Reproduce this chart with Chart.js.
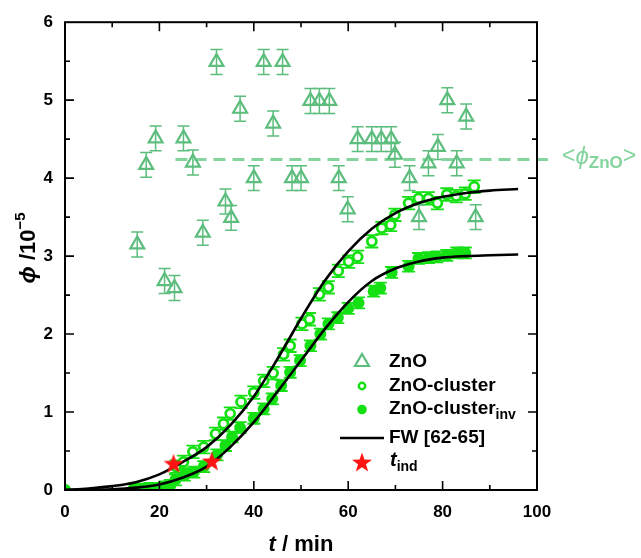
<!DOCTYPE html>
<html>
<head>
<meta charset="utf-8">
<script src="https://cdn.jsdelivr.net/npm/chart.js@4.4.1/dist/chart.umd.min.js"></script>
<style>
  html, body { margin: 0; padding: 0; background: #fff; }
  #wrap { width: 641px; height: 558px; }
</style>
</head>
<body>
<div id="wrap"><canvas id="myChart" width="641" height="558"></canvas></div>
<script>
// ZnO (triangles)
const znoT = [15.3, 17.2, 19.2, 21.1, 23.2, 25.1, 27.1, 29.2, 32.1, 34.0, 35.2, 37.1, 40.0, 42.1, 44.1, 46.1, 48.1, 50.0,
  52.0, 53.9, 56.0, 58.0, 59.9, 62.0, 65.0, 67.0, 69.1, 69.9, 73.0, 75.0, 77.0, 79.0, 81.0, 83.0, 85.0, 87.0];
const znoPhi = [3.15, 4.17, 4.51, 2.68, 2.59, 4.51, 4.20, 3.30, 5.49, 3.70, 3.49, 4.89, 4.00, 5.49, 4.70, 5.49, 4.00, 4.00,
  4.99, 4.99, 4.99, 4.00, 3.60, 4.50, 4.50, 4.50, 4.50, 4.30, 4.00, 3.50, 4.19, 4.40, 5.00, 4.19, 4.79, 3.50];
const znoErr = 0.16;
const znoMean = 4.24;
const znoMeanT = [23.4, 102.3];

// ZnO-cluster (open circles)
const clusterT = [0, 23.5, 25.1, 27.1, 29.4, 31.9, 33.6, 35.0, 37.3, 40.0, 42.1, 44.1, 46.3, 47.7, 50.2, 51.8, 53.9,
  55.8, 57.9, 60.1, 62.0, 65.0, 67.1, 69.0, 69.9, 72.8, 74.9, 77.0, 78.9, 80.9, 82.9, 84.8, 86.7];
const clusterPhi = [0, 0.30, 0.36, 0.49, 0.55, 0.72, 0.85, 0.98, 1.13, 1.25, 1.40, 1.50, 1.74, 1.85, 2.13, 2.19, 2.51,
  2.60, 2.81, 2.93, 2.99, 3.19, 3.36, 3.40, 3.53, 3.68, 3.74, 3.74, 3.68, 3.79, 3.77, 3.80, 3.89];
const clusterErr = 0.08;

// ZnO-cluster_inv (filled circles)
const invT = [0, 14.5, 16.2, 18.0, 19.8, 21.2, 22.3, 23.4, 25.3, 27.3, 29.4, 32.2, 34.0, 35.4, 37.1, 40.0, 42.1, 43.9,
  45.8, 47.7, 49.8, 52.0, 54.1, 55.8, 57.8, 60.0, 62.2, 65.4, 66.8, 69.2, 72.8, 74.9, 77.0, 78.8, 80.9, 83.0, 84.8];
const invPhi = [0, 0.01, 0.01, 0.02, 0.02, 0.04, 0.06, 0.13, 0.19, 0.23, 0.30, 0.45, 0.57, 0.68, 0.80, 0.92, 1.04, 1.17,
  1.34, 1.51, 1.66, 1.85, 2.00, 2.13, 2.21, 2.33, 2.40, 2.55, 2.59, 2.79, 2.87, 2.97, 2.98, 2.99, 3.01, 3.04, 3.04];
const invErr = 0.07;

// FW fit curves, sampled every 5 min
const fitT = [0, 5, 10, 15, 20, 25, 30, 35, 40, 45, 50, 55, 60, 65, 70, 75, 80, 85, 90, 96];
const fitUpperPhi = [0, 0.02, 0.05, 0.10, 0.20, 0.36, 0.55, 0.83, 1.20, 1.68, 2.20, 2.68, 3.06, 3.35, 3.55, 3.68,
  3.76, 3.81, 3.84, 3.86];
const fitLowerPhi = [0, 0.005, 0.01, 0.03, 0.07, 0.16, 0.30, 0.55, 0.87, 1.26, 1.66, 2.06, 2.41, 2.68, 2.84, 2.93,
  2.98, 3.00, 3.01, 3.02];

// induction times
const indT = [23.0, 31.1];
const indPhi = [0.33, 0.36];

const xTicks = [0, 20, 40, 60, 80, 100];
const yTicks = [0, 1, 2, 3, 4, 5, 6];

const FONT = 'Arial, "Liberation Sans", sans-serif';
const TRI = '#5cbd7d';
const MEAN = '#84d49e';
const GREEN = '#14e014';

const pts = (xs, ys) => xs.map((v, i) => ({ x: v, y: ys[i] }));

// filled red star used for t_ind
const starImg = document.createElement('canvas');
starImg.width = 24; starImg.height = 24;
(function () {
  const c = starImg.getContext('2d');
  c.beginPath();
  for (let k = 0; k < 10; k++) {
    const r = k % 2 ? 4.2 : 10.5;
    const a = -Math.PI / 2 + k * Math.PI / 5;
    c.lineTo(12 + r * Math.cos(a), 12 + r * Math.sin(a));
  }
  c.closePath();
  c.fillStyle = '#ff1414';
  c.fill();
})();

// text made of several styled pieces
function drawRuns(ctx, runs, x, y, align) {
  let total = 0;
  runs.forEach(r => { ctx.font = r.font; r.w = ctx.measureText(r.text).width; total += r.w; });
  let cx = align === 'center' ? x - total / 2 : x;
  ctx.textAlign = 'left';
  ctx.textBaseline = 'middle';
  runs.forEach(r => {
    ctx.font = r.font;
    ctx.fillText(r.text, cx, y + (r.dy || 0));
    cx += r.w;
  });
}

const errorBars = {
  id: 'errorBars',
  beforeDatasetsDraw(chart) {
    const { ctx, scales: { x, y } } = chart;
    chart.data.datasets.forEach(ds => {
      if (!ds.errY) return;
      ctx.save();
      ctx.strokeStyle = ds.errColor;
      ctx.lineWidth = ds.errWidth;
      ds.data.forEach(p => {
        if (p.y === 0) return;
        const px = x.getPixelForValue(p.x);
        const top = y.getPixelForValue(p.y + ds.errY);
        const bot = y.getPixelForValue(Math.max(0, p.y - ds.errY));
        const cap = ds.errCap;
        ctx.beginPath();
        ctx.moveTo(px, top); ctx.lineTo(px, bot);
        ctx.moveTo(px - cap, top); ctx.lineTo(px + cap, top);
        ctx.moveTo(px - cap, bot); ctx.lineTo(px + cap, bot);
        ctx.stroke();
      });
      ctx.restore();
    });
  }
};

const decorations = {
  id: 'decorations',
  afterDraw(chart) {
    const { ctx, chartArea: a, scales: { x, y } } = chart;
    ctx.save();
    // frame and inward ticks on all sides
    ctx.strokeStyle = '#000';
    ctx.lineWidth = 2;
    ctx.strokeRect(a.left, a.top, a.right - a.left, a.bottom - a.top);
    ctx.lineWidth = 1.6;
    ctx.beginPath();
    for (let v = 10; v < 100; v += 10) {
      const px = x.getPixelForValue(v);
      const len = v % 20 === 0 ? 9 : 5;
      ctx.moveTo(px, a.bottom); ctx.lineTo(px, a.bottom - len);
      ctx.moveTo(px, a.top); ctx.lineTo(px, a.top + len);
    }
    for (let v = 0.5; v < 6; v += 0.5) {
      const py = y.getPixelForValue(v);
      const len = Number.isInteger(v) ? 9 : 5;
      ctx.moveTo(a.left, py); ctx.lineTo(a.left + len, py);
      ctx.moveTo(a.right, py); ctx.lineTo(a.right - len, py);
    }
    ctx.stroke();

    // axis titles
    ctx.fillStyle = '#000';
    drawRuns(ctx, [
      { text: 't', font: 'italic bold 22px ' + FONT },
      { text: ' / min', font: 'bold 22px ' + FONT }
    ], (a.left + a.right) / 2, 545, 'center');
    ctx.save();
    ctx.translate(29, 248);
    ctx.rotate(-Math.PI / 2);
    drawRuns(ctx, [
      { text: 'ϕ', font: 'italic bold 23px ' + FONT },
      { text: ' /10', font: 'bold 22px ' + FONT },
      { text: '−5', font: 'bold 15px ' + FONT, dy: -8 }
    ], 0, 0, 'center');
    ctx.restore();

    // label of the mean line
    ctx.fillStyle = MEAN;
    drawRuns(ctx, [
      { text: '<', font: '23px ' + FONT },
      { text: 'ϕ', font: 'italic 24px ' + FONT },
      { text: 'ZnO', font: 'bold 17px ' + FONT, dy: 6 },
      { text: '>', font: '23px ' + FONT }
    ], 562, 157, 'left');

    // legend
    const sx = 362, tx = 389;
    ctx.strokeStyle = TRI; ctx.lineWidth = 2.2;
    ctx.beginPath();
    ctx.moveTo(sx, 361 - 7); ctx.lineTo(sx + 7, 361 + 5); ctx.lineTo(sx - 7, 361 + 5); ctx.closePath();
    ctx.stroke();
    ctx.strokeStyle = GREEN; ctx.lineWidth = 2.4;
    ctx.beginPath(); ctx.arc(sx, 386, 3.2, 0, Math.PI * 2); ctx.stroke();
    ctx.fillStyle = GREEN;
    ctx.beginPath(); ctx.arc(sx, 409.5, 4.8, 0, Math.PI * 2); ctx.fill();
    ctx.strokeStyle = '#000'; ctx.lineWidth = 2.5;
    ctx.beginPath(); ctx.moveTo(340, 438); ctx.lineTo(384, 438); ctx.stroke();
    ctx.drawImage(starImg, sx - 12, 463 - 12);

    ctx.fillStyle = '#000';
    const lf = 'bold 19px ' + FONT, sf = 'bold 14px ' + FONT;
    drawRuns(ctx, [{ text: 'ZnO', font: lf }], tx, 362, 'left');
    drawRuns(ctx, [{ text: 'ZnO-cluster', font: lf }], tx, 386, 'left');
    drawRuns(ctx, [{ text: 'ZnO-cluster', font: lf }, { text: 'inv', font: sf, dy: 6 }], tx, 409, 'left');
    drawRuns(ctx, [{ text: 'FW [62-65]', font: lf }], tx, 438, 'left');
    drawRuns(ctx, [{ text: 't', font: 'italic bold 20px ' + FONT }, { text: 'ind', font: sf, dy: 7 }], tx + 1, 460, 'left');
    ctx.restore();
  }
};

const ctx = document.getElementById('myChart').getContext('2d');
const myChart = new Chart(ctx, {
  type: 'scatter',
  data: {
    datasets: [
      {
        label: 't_ind',
        data: pts(indT, indPhi),
        pointStyle: starImg,
        pointRadius: 10
      },
      {
        label: 'FW [62-65]',
        data: pts(fitT, fitUpperPhi),
        showLine: true,
        borderColor: '#000',
        borderWidth: 2.6,
        pointRadius: 0,
        cubicInterpolationMode: 'monotone'
      },
      {
        label: 'FW [62-65] inv',
        data: pts(fitT, fitLowerPhi),
        showLine: true,
        borderColor: '#000',
        borderWidth: 2.6,
        pointRadius: 0,
        cubicInterpolationMode: 'monotone'
      },
      {
        label: 'ZnO-cluster inv',
        data: pts(invT, invPhi),
        pointRadius: 6,
        borderWidth: 0,
        backgroundColor: GREEN,
        errY: invErr, errColor: GREEN, errWidth: 1.8, errCap: 6.5
      },
      {
        label: 'ZnO-cluster',
        data: pts(clusterT, clusterPhi),
        pointRadius: 4.5,
        borderWidth: 2.8,
        borderColor: GREEN,
        backgroundColor: '#fff',
        errY: clusterErr, errColor: GREEN, errWidth: 1.8, errCap: 6.5
      },
      {
        label: 'ZnO',
        data: pts(znoT, znoPhi),
        pointStyle: 'triangle',
        pointRadius: 8,
        borderWidth: 2.2,
        borderColor: TRI,
        backgroundColor: 'rgba(0,0,0,0)',
        errY: znoErr, errColor: TRI, errWidth: 1.5, errCap: 6
      },
      {
        label: '<phi ZnO>',
        data: znoMeanT.map(t => ({ x: t, y: znoMean })),
        showLine: true,
        borderColor: MEAN,
        borderWidth: 3,
        borderDash: [12, 7],
        pointRadius: 0,
        clip: { left: 0, top: 0, right: 20, bottom: 0 }
      }
    ]
  },
  options: {
    responsive: false,
    animation: false,
    layout: { padding: { top: 22, right: 104, bottom: 0, left: 0 } },
    plugins: { legend: { display: false }, tooltip: { enabled: false } },
    scales: {
      x: {
        type: 'linear', min: 0, max: 100,
        afterFit: s => { s.height = 68; },
        afterBuildTicks: s => { s.ticks = xTicks.map(v => ({ value: v })); },
        grid: { display: false, drawTicks: false },
        border: { display: false },
        ticks: { color: '#000', padding: 12, maxRotation: 0, autoSkip: false, font: { family: FONT, size: 17, weight: 'bold' } }
      },
      y: {
        type: 'linear', min: 0, max: 6,
        afterFit: s => { s.width = 65; },
        afterBuildTicks: s => { s.ticks = yTicks.map(v => ({ value: v })); },
        grid: { display: false, drawTicks: false },
        border: { display: false },
        ticks: { color: '#000', padding: 12, autoSkip: false, font: { family: FONT, size: 17, weight: 'bold' } }
      }
    }
  },
  plugins: [errorBars, decorations]
});
</script>
</body>
</html>
